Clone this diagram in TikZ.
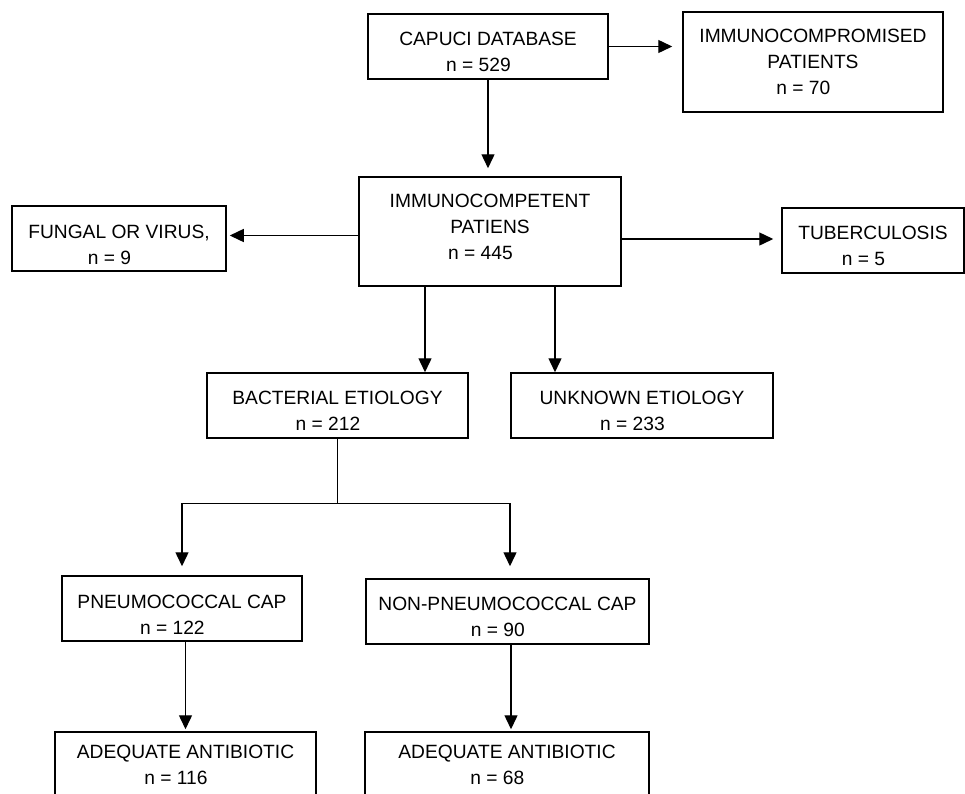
\documentclass[tikz,border=0pt]{standalone}
\usepackage{fontspec}
\setmainfont{Liberation Sans}
\usetikzlibrary{arrows.meta,calc}
\newcommand{\ncount}[1]{n = #1\hspace*{1em}}

\begin{document}
\begin{tikzpicture}[x=1pt, y=-1pt,
        box/.style={draw, line width=1.5pt, align=center, inner sep=0pt, minimum height=65pt,
            font=\fontsize{19.2}{26}\selectfont},
        flow/.style={-{Triangle[length=14pt,width=13pt]}, line width=1.4pt},
        gap/.style={shorten >=#1}]
        \useasboundingbox (0,0) rectangle (965,793);

        % Database and exclusions
        \node[box, minimum width=240pt] (capuci) at (488,46.5) {\rule{0pt}{25pt}CAPUCI DATABASE\\\ncount{529}};
        \node[box, minimum width=260pt, minimum height=100pt] (immcomp) at (813,62)
            {IMMUNOCOMPROMISED\\PATIENTS\hspace*{1em}\\\ncount{70}};
        \node[box, minimum width=262pt, minimum height=109pt] (imc) at (490,231.5)
            {IMMUNOCOMPETENT\\PATIENS\hspace*{1em}\\\ncount{445}\rule[-10pt]{0pt}{0pt}};
        \node[box, minimum width=214pt] (fungal) at (119,238.5) {\rule{0pt}{26pt}FUNGAL OR VIRUS,\\\ncount{9}};
        \node[box, minimum width=182pt] (tb) at (873,240.5) {\rule{0pt}{25pt}TUBERCULOSIS\\\ncount{5}};

        % Etiology
        \node[box, minimum width=261pt] (bact) at (337.5,405.5) {\rule{0pt}{24pt}BACTERIAL ETIOLOGY\\\ncount{212}};
        \node[box, minimum width=262pt] (unknown) at (642,405.5) {\rule{0pt}{24pt}UNKNOWN ETIOLOGY\\\ncount{233}};
        \node[box, minimum width=240pt] (pneumo) at (182,608.5) {\rule{0pt}{25pt}PNEUMOCOCCAL CAP\\\ncount{122}};
        \node[box, minimum width=283pt] (nonpneumo) at (507.5,611.5) {\rule{0pt}{25pt}NON-PNEUMOCOCCAL CAP\\\ncount{90}};

        % Treatment
        \node[box, minimum width=261pt] (adeq1) at (185.5,764.5) {ADEQUATE ANTIBIOTIC\\\ncount{116}};
        \node[box, minimum width=284pt] (adeq2) at (507,764.5) {ADEQUATE ANTIBIOTIC\\\ncount{68}};

        % Connectors
        \draw[flow, gap=10pt] (capuci.east) -- (capuci.east -| immcomp.west);
        \draw[flow, gap=8pt] (capuci.south) -- (capuci.south |- imc.north);
        \draw[flow, gap=3pt] ([yshift=3pt]fungal.east -| imc.west) -- ([yshift=3pt]fungal.east);
        \draw[flow, gap=8pt] ([yshift=1.5pt]tb.west -| imc.east) -- ([yshift=1.5pt]tb.west);
        \draw[flow] ([xshift=-65pt]imc.south) -- ([xshift=-65pt]imc.south |- bact.north);
        \draw[flow] ([xshift=65pt]imc.south) -- ([xshift=65pt]imc.south |- unknown.north);
        \coordinate (split) at ($(bact.south)+(0,65)$);
        \draw[line width=1.4pt] (bact.south) -- (split);
        \draw[flow, gap=9pt] (split) -| (pneumo.north);
        \draw[flow, gap=12pt] (split) -| ([xshift=2.5pt]nonpneumo.north);
        \draw[flow, gap=2pt] (pneumo.south -| adeq1.north) -- (adeq1.north);
        \draw[flow, gap=2pt] ([xshift=3.5pt]nonpneumo.south) -- ([xshift=3.5pt]nonpneumo.south |- adeq2.north);
\end{tikzpicture}
\end{document}
